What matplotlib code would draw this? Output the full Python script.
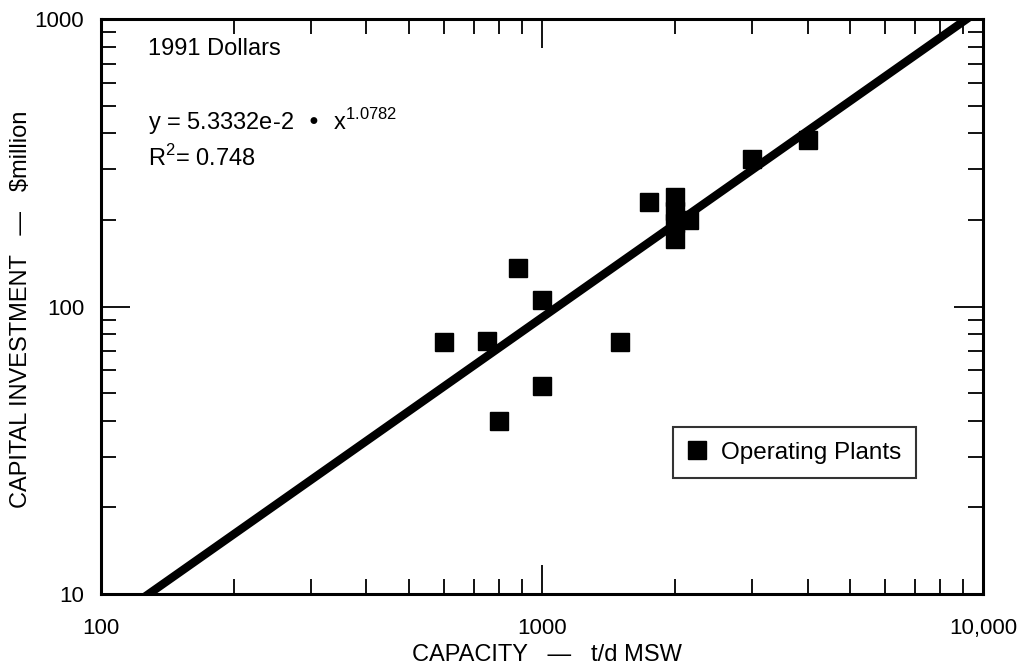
import numpy as np
import matplotlib
matplotlib.use("Agg")
import matplotlib.pyplot as plt
from matplotlib.ticker import FixedLocator, NullFormatter, FixedFormatter

plt.rcParams['font.family'] = ['Liberation Sans', 'DejaVu Sans']

# Operating plants: capacity (t/d MSW) vs capital investment ($million, 1991 dollars)
capacity = [600, 750, 800, 880, 1000, 1000, 1500, 1750, 2000, 2000, 2000, 2000, 2150, 3000, 4000]
investment = [75, 76, 40, 136, 105, 53, 75, 231, 240, 215, 195, 172, 200, 326, 380]

# Power-law fit y = a * x^b
fit_a = 5.3332e-2
fit_b = 1.0782
r_squared = 0.748

x_ticks = [100, 1000, 10000]
x_tick_labels = ["100", "1000", "10,000"]
y_ticks = [10, 100, 1000]
y_tick_labels = ["10", "100", "1000"]

fig = plt.figure(figsize=(10.21, 6.70), dpi=100)
ax = fig.add_axes([0.0989, 0.1134, 0.8639, 0.8582])
ax.set_xscale("log")
ax.set_yscale("log")
ax.set_xlim(100, 10000)
ax.set_ylim(10, 1000)

# fitted line
xf = np.logspace(2, 4, 200)
yf = fit_a * xf ** fit_b
ax.plot(xf, yf, color="black", lw=6, solid_capstyle="butt", zorder=2)

ax.plot(capacity, investment, linestyle="none", marker="s", markersize=13.5,
        color="black", label="Operating Plants", zorder=3)

for s in ax.spines.values():
    s.set_linewidth(2.2)

minor = []
for d in (10, 100, 1000):
    minor += [d * k for k in range(2, 10)]
ax.xaxis.set_major_locator(FixedLocator(x_ticks))
ax.xaxis.set_major_formatter(FixedFormatter(x_tick_labels))
ax.xaxis.set_minor_locator(FixedLocator(minor))
ax.xaxis.set_minor_formatter(NullFormatter())
ax.yaxis.set_major_locator(FixedLocator(y_ticks))
ax.yaxis.set_major_formatter(FixedFormatter(y_tick_labels))
ax.yaxis.set_minor_locator(FixedLocator(minor))
ax.yaxis.set_minor_formatter(NullFormatter())

ax.tick_params(which="both", direction="in", top=True, right=True, width=1.3, color="black")
ax.tick_params(which="major", length=21)
ax.tick_params(which="minor", length=10.5)
ax.tick_params(axis="x", which="major", pad=17, labelsize=16)
ax.tick_params(axis="y", which="major", pad=12, labelsize=16)

tf = ax.transAxes
ax.text(0.0533, 0.937, "1991 Dollars", transform=tf, fontsize=17, va="baseline", ha="left")
ax.text(0.0533, 0.807, r"y = 5.3332e-2  •  x$^{\mathregular{1.0782}}$", transform=tf,
        fontsize=17, va="baseline", ha="left")
ax.text(0.0533, 0.744, r"R$^{\mathregular{2}}$= 0.748", transform=tf, fontsize=17,
        va="baseline", ha="left")

leg = ax.legend(loc="upper left", bbox_to_anchor=(0.648, 0.2904), frameon=True, fancybox=False,
                fontsize=17.5, handlelength=0.8, handletextpad=0.6, borderpad=0.6,
                borderaxespad=0, markerscale=1.0, edgecolor="black")
leg.get_frame().set_linewidth(1.5)

fig.text(0.536, 0.022, "CAPACITY   —   t/d MSW", fontsize=17, ha="center", va="center")
fig.text(0.021, 1 - 309 / 670, "CAPITAL INVESTMENT   —   $million", fontsize=17,
         ha="center", va="center", rotation=90)

fig.savefig("out.png", dpi=100)
